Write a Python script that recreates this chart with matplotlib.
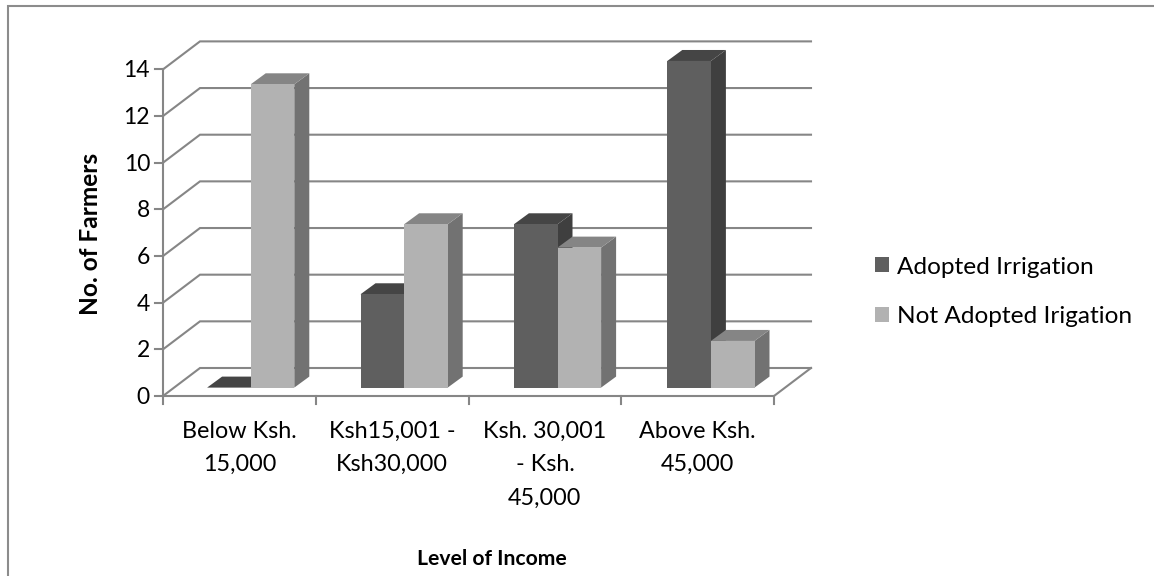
import matplotlib
matplotlib.use('Agg')
import matplotlib.pyplot as plt
from matplotlib.patches import Polygon, Patch
from matplotlib.transforms import Affine2D

categories = ['Below Ksh.\n15,000', 'Ksh15,001 -\nKsh30,000', 'Ksh. 30,001\n- Ksh.\n45,000', 'Above Ksh.\n45,000']
adopted = [0, 4, 7, 14]
not_adopted = [13, 7, 6, 2]
series_names = ['Adopted Irrigation', 'Not Adopted Irigation']
y_ticks = [0, 2, 4, 6, 8, 10, 12, 14]

W, H = 1154, 576
X0, XU = 163.0, 152.75     # pixel of category edge 0, pixels per category
Y0, YU = 396.0, 23.33      # pixel of value 0, pixels per unit

plt.rcParams['font.family'] = ['Lato', 'DejaVu Sans']
fig = plt.figure(figsize=(W / 100, H / 100), dpi=100, facecolor='white')
ax = fig.add_axes([0, 0, 1, 1])
ax.set_xlim(-X0 / XU, (W - X0) / XU)
ax.set_ylim((Y0 - H) / YU, Y0 / YU)
ax.axis('off')
px = Affine2D().scale(1, -1).translate(0, H)  # image pixels, y down

DX, DY = 37 / XU, 28 / YU          # wall depth
BW = 43.6 / XU                     # bar width
C0 = 87.7 / XU                     # first group's centre, bar plane
STEP = 153.4 / XU                  # group spacing, bar plane
FY = 8.4 / YU                      # bar front plane offset
SX, SY = 15 / XU, 11 / YU          # bar depth
GRID = '#868686'
LW = 1.5

# frame
ax.plot([8, 8, W + 5], [H + 5, 5.5, 5.5], color='#8c8c8c', lw=1.5, transform=px, clip_on=False,
        solid_joinstyle='miter')

# walls
n = len(categories)
for v in y_ticks:
    ax.plot([0, DX, n + DX], [v, v + DY, v + DY], color=GRID, lw=LW, solid_joinstyle='miter', zorder=1)
    ax.plot([-8 / XU, 0], [v, v], color=GRID, lw=LW, zorder=1)
    ax.text(-13 / XU, v - 1.5 / YU, str(v), ha='right', va='center', fontsize=16.5, color='black')
ax.plot([0, 0], [0, y_ticks[-1]], color=GRID, lw=LW, zorder=1)
ax.plot([0, n, n + DX], [0, 0, DY], color=GRID, lw=LW, solid_joinstyle='miter', zorder=1)
for i in range(n + 1):
    ax.plot([i, i], [0, -8 / YU], color=GRID, lw=LW, zorder=1)


def bar(xl, v, front, side, top, z):
    xr = xl + BW
    yb = FY
    yt = FY + v
    ax.add_patch(Polygon([(xr, yb), (xr + SX, yb + SY), (xr + SX, yt + SY), (xr, yt)], fc=side, ec='none', zorder=z))
    ax.add_patch(Polygon([(xl, yt), (xr, yt), (xr + SX, yt + SY), (xl + SX, yt + SY)], fc=top, ec='none', zorder=z))
    if v > 0:
        ax.add_patch(Polygon([(xl, yb), (xr, yb), (xr, yt), (xl, yt)], fc=front, ec='none', zorder=z))


for i in range(n):
    c = C0 + i * STEP
    bar(c - BW, adopted[i], '#5f5f5f', '#3f3f3f', '#454545', 2 + i)
    bar(c, not_adopted[i], '#b2b2b2', '#727272', '#858585', 2.5 + i)
    ax.text(i + 0.5, -25 / YU, categories[i], ha='center', va='top', fontsize=16.8,
            linespacing=1.72, color='black')

ax.text(492, 559, 'Level of Income', transform=px, ha='center', va='center',
        fontsize=15.2, fontweight='bold', color='black')
ax.text(90, 234, 'No. of Farmers', transform=px, ha='center', va='center', rotation=90,
        fontsize=17.6, fontweight='bold', color='black')

handles = [Patch(fc='#5f5f5f', ec='none'), Patch(fc='#b2b2b2', ec='none')]
ax.legend(handles, series_names, loc='center left', bbox_to_anchor=(875, 292),
          bbox_transform=px, frameon=False, fontsize=17.6, labelspacing=1.18,
          handlelength=0.57, handleheight=0.57, handletextpad=0.33, borderpad=0, borderaxespad=0)

fig.savefig('out.png', dpi=100, facecolor='white')
